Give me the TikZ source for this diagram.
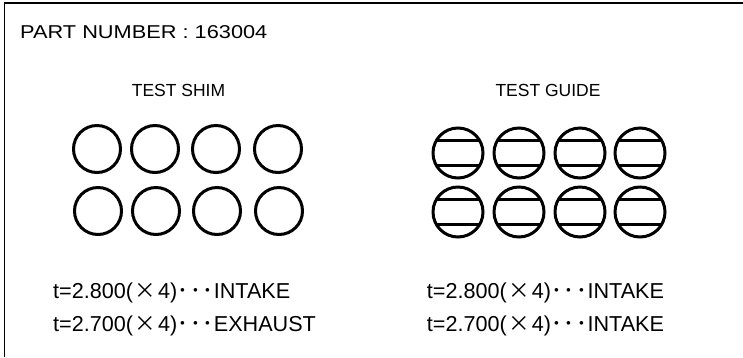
\documentclass[tikz,border=0pt]{standalone}
\usepackage{fontspec}
\setmainfont{Liberation Sans}
\newfontfamily\cjk{Noto Sans CJK JP}
\newcommand{\kakeru}{\makebox[25pt]{\cjk ×}}
\newcommand{\nakaten}{\makebox[12.2pt]{\cjk ･}}
\begin{document}
\begin{tikzpicture}[x=1pt,y=-1pt,
  frame/.style={line width=1.8pt},
  ring/.style={circle,draw,line width=3pt,inner sep=0pt,outer sep=0pt},
  shim/.style={ring,minimum size=47pt},
  guide/.style={ring,minimum size=50pt},
  chord/.style={line width=2.2pt},
  head/.style={anchor=base,font=\fontsize{17.5}{20}\selectfont},
  spec/.style={anchor=base west,font=\fontsize{21.6}{24}\selectfont,inner sep=0pt}]
\useasboundingbox (0,0) rectangle (743,357);
\coordinate (tl) at (4.5,3);
\coordinate (tr) at (743,3);
\coordinate (bl) at (4.5,357);
\draw[frame] (bl) -- (tl) -- (tr);
\node[anchor=base west,inner sep=0pt,font=\fontsize{18.6}{22}\selectfont] (title) at (20,38) {\scalebox{1.17}[1]{PART NUMBER : 163004}};
\node[head] (hs) at (178.5,96) {TEST SHIM};
\node[head] (hg) at (548,96) {TEST GUIDE};
% shims
\node[shim] (s1) at (97,149) {};
\node[shim] (s2) at (155,149) {};
\node[shim] (s3) at (216,149) {};
\node[shim] (s4) at (278,149) {};
\node[shim] (s5) at (98,211) {};
\node[shim] (s6) at (156,211) {};
\node[shim] (s7) at (217,211) {};
\node[shim] (s8) at (279,211) {};
% guides
\foreach \n/\x/\y in {1/458/153,2/519/153,3/580/153,4/640/153,5/458/212,6/519/212,7/580/212,8/640/212}{
  \node[guide] (g\n) at (\x,\y) {};
  \draw[chord] (g\n.150) -- (g\n.30);
  \draw[chord] (g\n.210) -- (g\n.330);
}
\node[spec] (l1) at (53,298.3) {t=2.800(\kakeru4)\nakaten\nakaten\nakaten INTAKE};
\node[spec] (l2) at (53,331) {t=2.700(\kakeru4)\nakaten\nakaten\nakaten EXHAUST};
\node[spec] (r1) at (426.7,298.3) {t=2.800(\kakeru4)\nakaten\nakaten\nakaten INTAKE};
\node[spec] (r2) at (426.7,331) {t=2.700(\kakeru4)\nakaten\nakaten\nakaten INTAKE};
\end{tikzpicture}
\end{document}
